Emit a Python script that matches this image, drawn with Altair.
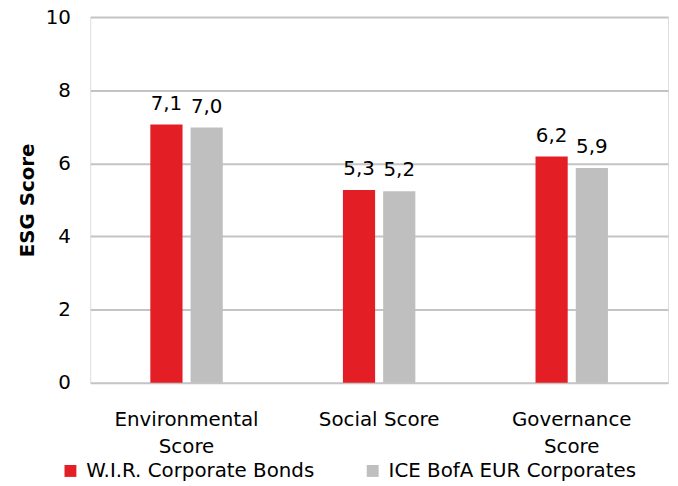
import altair as alt
import pandas as pd

categories = ["Environmental Score", "Social Score", "Governance Score"]
series_names = ["W.I.R. Corporate Bonds", "ICE BofA EUR Corporates"]
wir_values = [7.06, 5.27, 6.19]
ice_values = [6.98, 5.24, 5.87]
y_ticks = [0, 2, 4, 6, 8, 10]
colors = ["#E31E24", "#BFBFBF"]

rows = []
for s, vals in zip(series_names, [wir_values, ice_values]):
    for c, v in zip(categories, vals):
        rows.append({"category": c, "series": s, "value": v,
                     "label": f"{v:.1f}".replace(".", ",")})
df = pd.DataFrame(rows)

FONT = "DejaVu Sans"
FS = 20

x = alt.X("category:N", sort=categories, title=None,
          scale=alt.Scale(paddingInner=0.624, paddingOuter=0.312),
          axis=alt.Axis(labelAngle=0, labelFontSize=FS, labelColor="black",
                        labelPadding=27, ticks=False, domain=False, grid=False,
                        labelFont=FONT, labelLineHeight=27, labelLimit=0,
                        labelExpr="datum.value == 'Social Score' ? datum.value : split(datum.value, ' ')"))
xoff = alt.XOffset("series:N", sort=series_names,
                   scale=alt.Scale(paddingInner=0.2, paddingOuter=0))
y = alt.Y("value:Q", title="ESG Score",
          scale=alt.Scale(domain=[0, 10], nice=False),
          axis=alt.Axis(values=y_ticks, labelFontSize=FS, labelColor="black",
                        labelFont=FONT, labelPadding=20, ticks=False, domain=False,
                        gridColor="#C4C4C4", gridWidth=2,
                        titleFont=FONT, titleFontSize=20, titleFontWeight="bold",
                        titleColor="black", titlePadding=8))
color = alt.Color("series:N", sort=series_names,
                  scale=alt.Scale(domain=series_names, range=colors),
                  legend=alt.Legend(title=None, orient="none", direction="horizontal",
                                    legendX=-30, legendY=448,
                                    symbolType="square", symbolSize=144,
                                    symbolStrokeWidth=0, labelLimit=0,
                                    labelFontSize=FS, labelFont=FONT, labelColor="black",
                                    labelOffset=6, columnPadding=48))

bars = alt.Chart(df).mark_bar().encode(x=x, xOffset=xoff, y=y, color=color)
texts = alt.Chart(df).mark_text(dy=-15, baseline="alphabetic", fontSize=FS,
                                font=FONT, color="black").encode(
    x=x, xOffset=xoff, y=y, text="label:N")

chart = alt.layer(bars, texts).properties(
    width=583, height=369,
    autosize=alt.AutoSizeParams(type="none"),
    padding={"left": 83, "top": 7, "right": 2, "bottom": 98},
).configure_view(stroke="#878787", strokeWidth=2).configure(background="white")

chart.save("out.html", embed_options={"renderer": "svg", "actions": False})
